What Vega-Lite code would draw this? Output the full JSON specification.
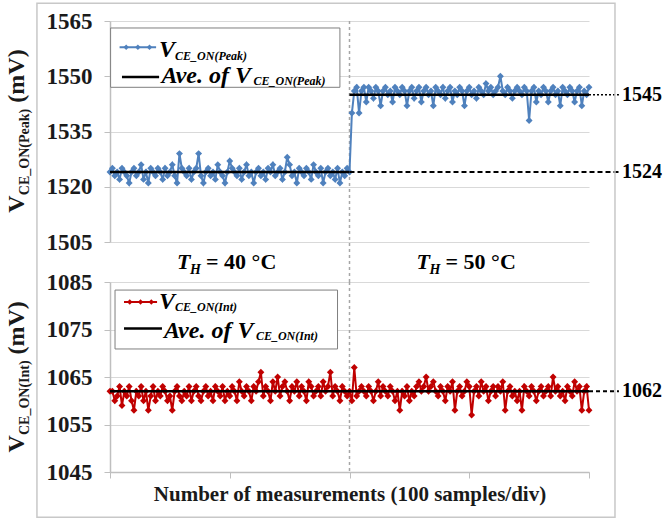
{
"$schema": "https://vega.github.io/schema/vega-lite/v6.json",
"background": "white",
"padding": {"left": 5, "top": 2, "right": 2, "bottom": 2},
"bounds": "flush",
"spacing": 40,
"config": {
  "view": {"stroke": null},
  "axis": {"domainColor": "#bfbfbf", "domainWidth": 1.5, "tickColor": "#bfbfbf", "gridColor": "#d9d9d9", "labelFont": "Liberation Serif", "labelFontWeight": "bold", "labelFontSize": 23, "labelColor": "#1a1a1a", "titleFont": "Liberation Serif", "titleFontWeight": "bold", "titleFontSize": 21, "titleColor": "#1a1a1a", "tickSize": 6, "labelPadding": 12},
  "axisX": {"grid": false},
  "axisY": {"grid": true}
},
"datasets": {
"m": [
{"n":0,"p":1524,"i":1062},
{"n":2,"p":1525,"i":1062},{"n":4,"p":1523,"i":1060},{"n":6,"p":1524,"i":1061},{"n":8,"p":1522,"i":1063},{"n":10,"p":1525,"i":1059},{"n":12,"p":1524,"i":1062},{"n":14,"p":1523,"i":1061},{"n":16,"p":1521,"i":1063},{"n":18,"p":1524,"i":1060},{"n":20,"p":1525,"i":1058},
{"n":22,"p":1523,"i":1062},{"n":24,"p":1524,"i":1061},{"n":26,"p":1526,"i":1063},{"n":28,"p":1522,"i":1060},{"n":30,"p":1524,"i":1062},{"n":32,"p":1521,"i":1058},{"n":34,"p":1525,"i":1061},{"n":36,"p":1524,"i":1063},{"n":38,"p":1523,"i":1060},{"n":40,"p":1525,"i":1062},
{"n":42,"p":1524,"i":1061},{"n":44,"p":1522,"i":1063},{"n":46,"p":1525,"i":1062},{"n":48,"p":1523,"i":1060},{"n":50,"p":1524,"i":1061},{"n":52,"p":1526,"i":1058},{"n":54,"p":1523,"i":1062},{"n":56,"p":1521,"i":1063},{"n":58,"p":1529,"i":1061},{"n":60,"p":1525,"i":1060},
{"n":62,"p":1524,"i":1062},{"n":64,"p":1523,"i":1061},{"n":66,"p":1525,"i":1063},{"n":68,"p":1522,"i":1060},{"n":70,"p":1524,"i":1062},{"n":72,"p":1525,"i":1063},{"n":74,"p":1529,"i":1061},{"n":76,"p":1523,"i":1060},{"n":78,"p":1521,"i":1062},{"n":80,"p":1524,"i":1063},
{"n":82,"p":1525,"i":1061},{"n":84,"p":1523,"i":1062},{"n":86,"p":1524,"i":1060},{"n":88,"p":1522,"i":1063},{"n":90,"p":1526,"i":1062},{"n":92,"p":1524,"i":1061},{"n":94,"p":1523,"i":1063},{"n":96,"p":1521,"i":1060},{"n":98,"p":1524,"i":1062},{"n":100,"p":1527,"i":1061},
{"n":102,"p":1525,"i":1063},{"n":104,"p":1524,"i":1062},{"n":106,"p":1523,"i":1060},{"n":108,"p":1525,"i":1064},{"n":110,"p":1522,"i":1062},{"n":112,"p":1524,"i":1061},{"n":114,"p":1526,"i":1063},{"n":116,"p":1523,"i":1062},{"n":118,"p":1524,"i":1060},{"n":120,"p":1521,"i":1063},
{"n":122,"p":1524,"i":1062},{"n":124,"p":1525,"i":1064},{"n":126,"p":1523,"i":1066},{"n":128,"p":1524,"i":1061},{"n":130,"p":1522,"i":1063},{"n":132,"p":1525,"i":1062},{"n":134,"p":1524,"i":1060},{"n":136,"p":1526,"i":1064},{"n":138,"p":1523,"i":1062},{"n":140,"p":1524,"i":1065},
{"n":142,"p":1525,"i":1061},{"n":144,"p":1522,"i":1063},{"n":146,"p":1524,"i":1064},{"n":148,"p":1528,"i":1062},{"n":150,"p":1526,"i":1060},{"n":152,"p":1523,"i":1063},{"n":154,"p":1524,"i":1062},{"n":156,"p":1521,"i":1064},{"n":158,"p":1525,"i":1061},{"n":160,"p":1524,"i":1063},
{"n":162,"p":1523,"i":1062},{"n":164,"p":1525,"i":1060},{"n":166,"p":1524,"i":1064},{"n":168,"p":1522,"i":1063},{"n":170,"p":1526,"i":1061},{"n":172,"p":1524,"i":1062},{"n":174,"p":1523,"i":1063},{"n":176,"p":1525,"i":1061},{"n":178,"p":1521,"i":1064},{"n":180,"p":1524,"i":1062},
{"n":182,"p":1525,"i":1063},{"n":184,"p":1523,"i":1066},{"n":186,"p":1524,"i":1061},{"n":188,"p":1522,"i":1063},{"n":190,"p":1525,"i":1062},{"n":192,"p":1521,"i":1060},{"n":194,"p":1524,"i":1063},{"n":196,"p":1523,"i":1062},{"n":198,"p":1525,"i":1061},{"n":200,"p":1524,"i":1062},
{"n":202,"p":1540,"i":1060},{"n":204,"p":1546,"i":1067},{"n":206,"p":1547,"i":1061},{"n":208,"p":1540,"i":1062},{"n":210,"p":1546,"i":1063},{"n":212,"p":1547,"i":1062},{"n":214,"p":1543,"i":1061},{"n":216,"p":1547,"i":1063},{"n":218,"p":1546,"i":1062},{"n":220,"p":1544,"i":1060},
{"n":222,"p":1547,"i":1062},{"n":224,"p":1546,"i":1064},{"n":226,"p":1542,"i":1061},{"n":228,"p":1546,"i":1063},{"n":230,"p":1547,"i":1062},{"n":232,"p":1545,"i":1061},{"n":234,"p":1546,"i":1063},{"n":236,"p":1543,"i":1062},{"n":238,"p":1547,"i":1060},{"n":240,"p":1546,"i":1062},
{"n":242,"p":1545,"i":1058},{"n":244,"p":1547,"i":1062},{"n":246,"p":1546,"i":1061},{"n":248,"p":1542,"i":1063},{"n":250,"p":1546,"i":1060},{"n":252,"p":1547,"i":1062},{"n":254,"p":1544,"i":1061},{"n":256,"p":1546,"i":1063},{"n":258,"p":1547,"i":1064},{"n":260,"p":1543,"i":1062},
{"n":262,"p":1546,"i":1063},{"n":264,"p":1547,"i":1065},{"n":266,"p":1545,"i":1062},{"n":268,"p":1546,"i":1063},{"n":270,"p":1542,"i":1064},{"n":272,"p":1547,"i":1062},{"n":274,"p":1546,"i":1061},{"n":276,"p":1545,"i":1063},{"n":278,"p":1547,"i":1062},{"n":280,"p":1544,"i":1060},
{"n":282,"p":1546,"i":1063},{"n":284,"p":1547,"i":1062},{"n":286,"p":1543,"i":1064},{"n":288,"p":1546,"i":1058},{"n":290,"p":1545,"i":1062},{"n":292,"p":1547,"i":1063},{"n":294,"p":1546,"i":1061},{"n":296,"p":1542,"i":1062},{"n":298,"p":1546,"i":1064},{"n":300,"p":1547,"i":1063},
{"n":302,"p":1545,"i":1057},{"n":304,"p":1546,"i":1062},{"n":306,"p":1544,"i":1063},{"n":308,"p":1547,"i":1061},{"n":310,"p":1546,"i":1064},{"n":312,"p":1545,"i":1062},{"n":314,"p":1548,"i":1063},{"n":316,"p":1546,"i":1060},{"n":318,"p":1547,"i":1062},{"n":320,"p":1545,"i":1063},
{"n":322,"p":1546,"i":1061},{"n":324,"p":1547,"i":1063},{"n":326,"p":1550,"i":1062},{"n":328,"p":1546,"i":1064},{"n":330,"p":1545,"i":1058},{"n":332,"p":1547,"i":1062},{"n":334,"p":1546,"i":1063},{"n":336,"p":1544,"i":1061},{"n":338,"p":1546,"i":1062},{"n":340,"p":1547,"i":1060},
{"n":342,"p":1546,"i":1062},{"n":344,"p":1545,"i":1058},{"n":346,"p":1547,"i":1063},{"n":348,"p":1546,"i":1062},{"n":350,"p":1538,"i":1061},{"n":352,"p":1546,"i":1063},{"n":354,"p":1547,"i":1062},{"n":356,"p":1543,"i":1060},{"n":358,"p":1546,"i":1062},{"n":360,"p":1545,"i":1063},
{"n":362,"p":1547,"i":1061},{"n":364,"p":1546,"i":1062},{"n":366,"p":1543,"i":1063},{"n":368,"p":1546,"i":1061},{"n":370,"p":1547,"i":1065},{"n":372,"p":1545,"i":1062},{"n":374,"p":1546,"i":1063},{"n":376,"p":1542,"i":1061},{"n":378,"p":1547,"i":1062},{"n":380,"p":1546,"i":1060},
{"n":382,"p":1545,"i":1063},{"n":384,"p":1547,"i":1062},{"n":386,"p":1546,"i":1061},{"n":388,"p":1543,"i":1064},{"n":390,"p":1546,"i":1062},{"n":392,"p":1547,"i":1063},{"n":394,"p":1542,"i":1058},{"n":396,"p":1546,"i":1062},{"n":398,"p":1545,"i":1063},{"n":400,"p":1547,"i":1058}
]
},
"vconcat": [
{
  "width": 479, "height": 221,
  "encoding": {
    "x": {"field": "n", "type": "quantitative", "scale": {"domain": [0, 400], "nice": false, "zero": false}, "axis": null},
    "y": {"field": "p", "type": "quantitative", "scale": {"domain": [1505, 1565], "nice": false, "zero": false}, "title": null, "axis": {"values": [1505, 1520, 1535, 1550, 1565], "format": "d"}}
  },
  "layer": [
    {"data": {"values": [{"n": 200, "p": 1565, "p2": 1494}]}, "mark": {"type": "rule", "color": "#a6a6a6", "strokeDash": [3, 3], "strokeWidth": 1.5, "clip": false}, "encoding": {"y2": {"field": "p2"}}},
    {"data": {"name": "m"}, "mark": {"type": "line", "color": "#4f81bd", "strokeWidth": 2, "point": {"shape": "diamond", "size": 48, "filled": true, "color": "#4f81bd"}}},
    {"data": {"values": [{"n": 0, "n2": 200, "p": 1524}, {"n": 200, "n2": 400, "p": 1545}]}, "mark": {"type": "rule", "color": "black", "strokeWidth": 2.5}, "encoding": {"x2": {"field": "n2"}}},
    {"data": {"values": [{"n": 200, "n2": 425, "p": 1524}]}, "mark": {"type": "rule", "color": "black", "strokeWidth": 2, "strokeDash": [5, 3], "clip": false}, "encoding": {"x2": {"field": "n2"}}},
    {"data": {"values": [{"n": 400, "n2": 425, "p": 1545}]}, "mark": {"type": "rule", "color": "black", "strokeWidth": 1.5, "strokeDash": [2, 2], "clip": false}, "encoding": {"x2": {"field": "n2"}}},
    {"data": {"values": [{"n": 425, "p": 1545, "t": "1545"}, {"n": 425, "p": 1524, "t": "1524"}]}, "mark": {"type": "text", "align": "left", "baseline": "middle", "dx": 3, "font": "Liberation Serif", "fontWeight": "bold", "fontSize": 20, "color": "black", "clip": false}, "encoding": {"text": {"field": "t"}}},
    {"data": {"values": [{"n": 56, "p": 1497.7, "a": "T", "b": "H", "c": "= 40 °C"}, {"n": 256, "p": 1497.7, "a": "T", "b": "H", "c": "= 50 °C"}]},
     "layer": [
       {"mark": {"type": "text", "align": "left", "baseline": "alphabetic", "font": "Liberation Serif", "fontStyle": "italic", "fontWeight": "bold", "fontSize": 22, "color": "black", "clip": false}, "encoding": {"text": {"field": "a"}}},
       {"mark": {"type": "text", "align": "left", "baseline": "alphabetic", "dx": 13, "dy": 5, "font": "Liberation Serif", "fontStyle": "italic", "fontWeight": "bold", "fontSize": 14, "color": "black", "clip": false}, "encoding": {"text": {"field": "b"}}},
       {"mark": {"type": "text", "align": "left", "baseline": "alphabetic", "dx": 29, "font": "Liberation Serif", "fontWeight": "bold", "fontSize": 22, "color": "black", "clip": false}, "encoding": {"text": {"field": "c"}}}
     ]},
    {"data": {"values": [{"n": 0.5, "n2": 192, "p": 1563.1, "p2": 1547.0}]}, "mark": {"type": "rect", "fill": "white", "stroke": "#7f7f7f", "strokeWidth": 1}, "encoding": {"x2": {"field": "n2"}, "y2": {"field": "p2"}}},
    {"data": {"values": [{"n": 8, "p": 1557.9}, {"n": 38.5, "p": 1557.9}]}, "mark": {"type": "line", "color": "#4f81bd", "strokeWidth": 2}},
    {"data": {"values": [{"n": 13.5, "p": 1557.9}, {"n": 23.3, "p": 1557.9}, {"n": 33, "p": 1557.9}]}, "mark": {"type": "point", "shape": "diamond", "size": 30, "filled": true, "opacity": 1, "color": "#4f81bd"}},
    {"data": {"values": [{"n": 10, "p": 1549.8}, {"n": 41, "p": 1549.8}]}, "mark": {"type": "line", "color": "black", "strokeWidth": 2.5}},
    {"data": {"values": [{"n": 41, "p": 1555.3, "a": "V"}, {"n": 43, "p": 1548.2, "a": "Ave. of V"}]}, "mark": {"type": "text", "align": "left", "baseline": "alphabetic", "font": "Liberation Serif", "fontStyle": "italic", "fontWeight": "bold", "fontSize": 24, "color": "black"}, "encoding": {"text": {"field": "a"}}},
    {"data": {"values": [{"n": 41, "p": 1555.3, "b": "CE_ON(Peak)"}]}, "mark": {"type": "text", "align": "left", "baseline": "alphabetic", "dx": 16, "dy": 3, "font": "Liberation Serif", "fontStyle": "italic", "fontWeight": "bold", "fontSize": 12, "color": "black"}, "encoding": {"text": {"field": "b"}}},
    {"data": {"values": [{"n": 43, "p": 1548.2, "b": "CE_ON(Peak)"}]}, "mark": {"type": "text", "align": "left", "baseline": "alphabetic", "dx": 92, "dy": 2, "font": "Liberation Serif", "fontStyle": "italic", "fontWeight": "bold", "fontSize": 12, "color": "black"}, "encoding": {"text": {"field": "b"}}},
    {"data": {"values": [{"n": -71.7, "p": 1512.96, "a": "V", "b": "CE_ON(Peak)", "c": "(mV)"}]},
     "layer": [
       {"mark": {"type": "text", "angle": 270, "align": "left", "baseline": "alphabetic", "font": "Liberation Serif", "fontWeight": "bold", "fontSize": 24, "color": "#1a1a1a", "clip": false}, "encoding": {"text": {"field": "a"}}},
       {"mark": {"type": "text", "angle": 270, "align": "left", "baseline": "alphabetic", "dx": 17.5, "dy": 5, "font": "Liberation Serif", "fontWeight": "bold", "fontSize": 14, "color": "#1a1a1a", "clip": false}, "encoding": {"text": {"field": "b"}}},
       {"mark": {"type": "text", "angle": 270, "align": "left", "baseline": "alphabetic", "dx": 110, "font": "Liberation Serif", "fontWeight": "bold", "fontSize": 24, "color": "#1a1a1a", "clip": false}, "encoding": {"text": {"field": "c"}}}
     ]}
  ]
},
{
  "width": 479, "height": 190,
  "encoding": {
    "x": {"field": "n", "type": "quantitative", "scale": {"domain": [0, 400], "nice": false, "zero": false}, "axis": {"values": [0, 100, 200, 300, 400], "labels": false, "title": "Number of measurements (100 samples/div)", "titlePadding": 5}},
    "y": {"field": "i", "type": "quantitative", "scale": {"domain": [1045, 1085], "nice": false, "zero": false}, "title": null, "axis": {"values": [1045, 1055, 1065, 1075, 1085], "format": "d"}}
  },
  "layer": [
    {"data": {"values": [{"n": -61, "n2": 421.7, "i": 1143.7, "i2": 1035.5}]}, "mark": {"type": "rect", "fill": "transparent", "stroke": "#c8c8c8", "strokeWidth": 1.5, "clip": false}, "encoding": {"x2": {"field": "n2"}, "y2": {"field": "i2"}}},
    {"data": {"values": [{"n": 200, "i": 1085, "i2": 1045}]}, "mark": {"type": "rule", "color": "#a6a6a6", "strokeDash": [3, 3], "strokeWidth": 1.5}, "encoding": {"y2": {"field": "i2"}}},
    {"data": {"name": "m"}, "mark": {"type": "line", "color": "#c00000", "strokeWidth": 2, "point": {"shape": "diamond", "size": 48, "filled": true, "color": "#c00000"}}},
    {"data": {"values": [{"n": 0, "n2": 400, "i": 1062}]}, "mark": {"type": "rule", "color": "black", "strokeWidth": 2.5}, "encoding": {"x2": {"field": "n2"}}},
    {"data": {"values": [{"n": 400, "n2": 425, "i": 1062}]}, "mark": {"type": "rule", "color": "black", "strokeWidth": 2, "strokeDash": [4, 3], "clip": false}, "encoding": {"x2": {"field": "n2"}}},
    {"data": {"values": [{"n": 425, "i": 1062, "t": "1062"}]}, "mark": {"type": "text", "align": "left", "baseline": "middle", "dx": 3, "font": "Liberation Serif", "fontWeight": "bold", "fontSize": 20, "color": "black", "clip": false}, "encoding": {"text": {"field": "t"}}},
    {"data": {"values": [{"n": 4.2, "n2": 190, "i": 1083.3, "i2": 1070.9}]}, "mark": {"type": "rect", "fill": "white", "stroke": "#7f7f7f", "strokeWidth": 1}, "encoding": {"x2": {"field": "n2"}, "y2": {"field": "i2"}}},
    {"data": {"values": [{"n": 11.7, "i": 1080.8}, {"n": 39.3, "i": 1080.8}]}, "mark": {"type": "line", "color": "#c00000", "strokeWidth": 2}},
    {"data": {"values": [{"n": 16.5, "i": 1080.8}, {"n": 25.5, "i": 1080.8}, {"n": 34.5, "i": 1080.8}]}, "mark": {"type": "point", "shape": "diamond", "size": 30, "filled": true, "opacity": 1, "color": "#c00000"}},
    {"data": {"values": [{"n": 11.7, "i": 1075.2}, {"n": 43.4, "i": 1075.2}]}, "mark": {"type": "line", "color": "black", "strokeWidth": 2.5}},
    {"data": {"values": [{"n": 40.9, "i": 1079.3, "a": "V"}, {"n": 45, "i": 1073.2, "a": "Ave. of V"}]}, "mark": {"type": "text", "align": "left", "baseline": "alphabetic", "font": "Liberation Serif", "fontStyle": "italic", "fontWeight": "bold", "fontSize": 24, "color": "black"}, "encoding": {"text": {"field": "a"}}},
    {"data": {"values": [{"n": 40.9, "i": 1079.3, "b": "CE_ON(Int)"}]}, "mark": {"type": "text", "align": "left", "baseline": "alphabetic", "dx": 16, "dy": 2, "font": "Liberation Serif", "fontStyle": "italic", "fontWeight": "bold", "fontSize": 12, "color": "black"}, "encoding": {"text": {"field": "b"}}},
    {"data": {"values": [{"n": 45, "i": 1073.2, "b": "CE_ON(Int)"}]}, "mark": {"type": "text", "align": "left", "baseline": "alphabetic", "dx": 92, "dy": 2, "font": "Liberation Serif", "fontStyle": "italic", "fontWeight": "bold", "fontSize": 12, "color": "black"}, "encoding": {"text": {"field": "b"}}},
    {"data": {"values": [{"n": -71.7, "i": 1049.1, "a": "V", "b": "CE_ON(Int)", "c": "(mV)"}]},
     "layer": [
       {"mark": {"type": "text", "angle": 270, "align": "left", "baseline": "alphabetic", "font": "Liberation Serif", "fontWeight": "bold", "fontSize": 24, "color": "#1a1a1a", "clip": false}, "encoding": {"text": {"field": "a"}}},
       {"mark": {"type": "text", "angle": 270, "align": "left", "baseline": "alphabetic", "dx": 17.5, "dy": 5, "font": "Liberation Serif", "fontWeight": "bold", "fontSize": 14, "color": "#1a1a1a", "clip": false}, "encoding": {"text": {"field": "b"}}},
       {"mark": {"type": "text", "angle": 270, "align": "left", "baseline": "alphabetic", "dx": 98, "font": "Liberation Serif", "fontWeight": "bold", "fontSize": 24, "color": "#1a1a1a", "clip": false}, "encoding": {"text": {"field": "c"}}}
     ]}
  ]
}
]
}
